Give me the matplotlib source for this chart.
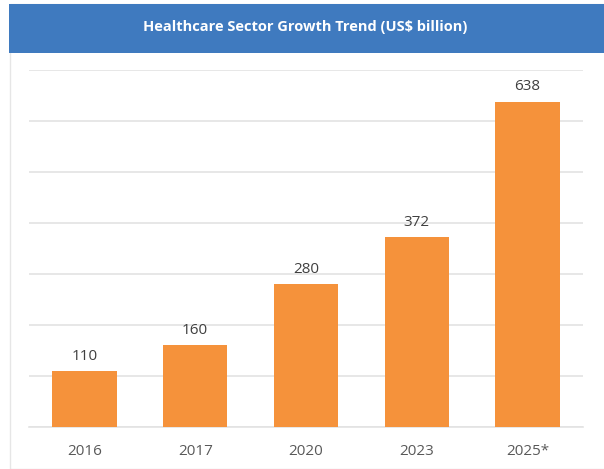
import matplotlib.pyplot as plt
from matplotlib.patches import Rectangle

years = ['2016', '2017', '2020', '2023', '2025*']
values = [110, 160, 280, 372, 638]

plt.rcParams['font.family'] = ['Open Sans', 'DejaVu Sans']

fig = plt.figure(figsize=(6.04, 4.69), dpi=100)

# light frame and blue title band
fig.patches.append(Rectangle((10/604, 0.0), 1.0, 1 - 4/469, transform=fig.transFigure,
                             facecolor='none', edgecolor='#e6e6e6', linewidth=1.0, zorder=-1))
fig.patches.append(Rectangle((9/604, 1 - 53/469), 1.0, 49/469, transform=fig.transFigure,
                             facecolor='#3f7abf', edgecolor='none', zorder=1))
fig.text(0.505, 1 - 27/469, 'Healthcare Sector Growth Trend (US$ billion)',
         ha='center', va='center', color='white', fontsize=10.5, fontweight='bold')

ax = fig.add_axes([29/604, 42/469, 554/604, 357/469])
ax.set_zorder(2)
ax.patch.set_visible(False)
x = range(len(years))
ax.bar(x, values, width=0.58, color='#f5923b', zorder=3)
for i, v in zip(x, values):
    ax.text(i, v + 14, str(v), ha='center', va='bottom', fontsize=11, color='#404040')

ax.set_xlim(-0.5, len(years) - 0.5)
ax.set_ylim(0, 700)
ax.set_yticks(range(0, 701, 100))
ax.yaxis.grid(True, color='#e3e3e3', linewidth=1.2, zorder=0)
ax.tick_params(axis='y', left=False, labelleft=False)
ax.tick_params(axis='x', length=0, pad=12, labelsize=11, labelcolor='#595959')
ax.set_xticks(list(x))
ax.set_xticklabels(years)
for s in ['top', 'right', 'left']:
    ax.spines[s].set_visible(False)
ax.spines['bottom'].set_color('#e3e3e3')
ax.spines['bottom'].set_linewidth(1.2)

fig.savefig('out.png', dpi=100)
